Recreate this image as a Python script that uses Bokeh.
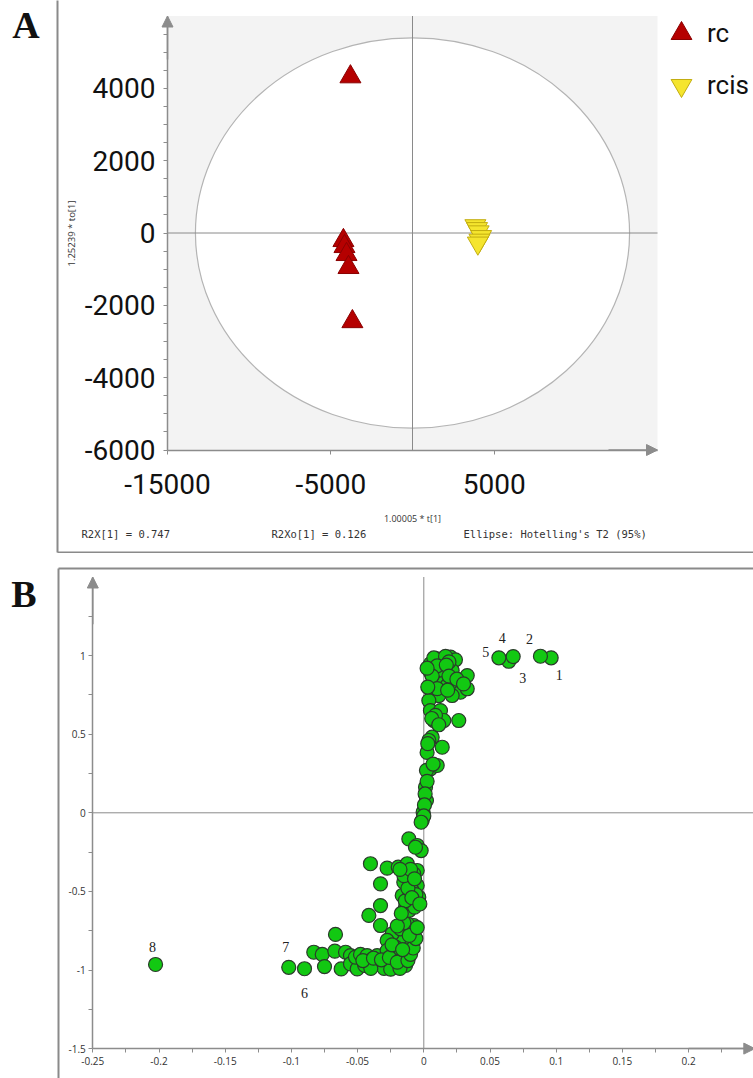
from bokeh.plotting import figure
from bokeh.layouts import column
from bokeh.models import (Range1d, LinearAxis, FixedTicker, Arrow, NormalHead,
                          Legend, Label, ColumnDataSource)
from bokeh.embed import file_html
from bokeh.resources import INLINE
from bokeh.core.properties import value

# ---------------- DATA ----------------
# Panel A: OPLS-DA score plot
rc_t = [-3800, -4230, -4165, -4040, -3920, -3680]
rc_to = [4320, -207, -373, -594, -953, -2450]
rcis_t = [3850, 3950, 4050, 4200, 4100, 4000]
rcis_to = [200, 120, 30, -100, -200, -280]
groups = ["rc", "rcis"]
a_x_ticks = [-15000, -5000, 5000]
a_x_tick_labels = ["-15000", "-5000", "5000"]
a_y_ticks = [-6000, -4000, -2000, 0, 2000, 4000]
a_y_tick_labels = ["-6000", "-4000", "-2000", "0", "2000", "4000"]
a_y_minor = [-5500, -5000, -4500, -3500, -3000, -2500, -1500, -1000, -500,
             500, 1000, 1500, 2500, 3000, 3500, 4500, 5000, 5500]
a_x_range = [-15000, 15000]
a_y_range = [-6000, 6000]
ellipse_semi_axes = [13290, 5400]
a_x_title = "1.00005 * t[1]"
a_y_title = "1.25239 * to[1]"
a_notes = ["R2X[1] = 0.747", "R2Xo[1] = 0.126", "Ellipse: Hotelling's T2 (95%)"]

# Panel B: S-plot (loadings)
marked_ids = ["1", "2", "3", "4", "5", "6", "7", "8"]
marked_p = [0.0962, 0.0881, 0.0642, 0.0675, 0.0567, -0.0901, -0.102, -0.2026]
marked_pcorr = [0.986, 0.996, 0.964, 0.994, 0.986, -0.992, -0.983, -0.965]

upper_p = [0.0050, 0.0101, 0.0139, 0.0202, 0.0239, 0.0050, 0.0126, 0.0214, 0.0328,
           0.0088, 0.0139, 0.0177, 0.0227, 0.0277, 0.0328, 0.0214, 0.0113, 0.0038,
           0.0050, 0.0126, 0.0076, 0.0151, 0.0264, 0.0063, 0.0038, 0.0139, 0.0025,
           0.0050, 0.0101, 0.0013, 0.0020, -0.0005, -0.0012,
           0.0076, 0.0164, 0.0190, 0.0101, 0.0170, 0.0063, 0.0190, 0.0250, 0.0300,
           0.0101, 0.0180, 0.0025, 0.0030, 0.0088, 0.0060, 0.0113, 0.0030, 0.0020,
           0.0070, 0.0025, 0.0010, 0.0005, 0.0000, -0.0020]
upper_pcorr = [0.948, 0.980, 0.958, 0.990, 0.973, 0.894, 0.905, 0.905, 0.873,
               0.831, 0.821, 0.810, 0.831, 0.767, 0.789, 0.746, 0.746, 0.714,
               0.650, 0.650, 0.587, 0.587, 0.587, 0.481, 0.460, 0.417, 0.384,
               0.280, 0.301, 0.163, 0.078, 0.004, -0.049,
               0.985, 0.995, 0.960, 0.935, 0.940, 0.870, 0.870, 0.850, 0.820,
               0.790, 0.780, 0.920, 0.800, 0.620, 0.600, 0.560, 0.440, 0.270,
               0.310, 0.200, 0.120, 0.050, -0.020, -0.060]

lower_p = [-0.0831, -0.0767, -0.0750, -0.0667, -0.0672, -0.0624, -0.0591, -0.0554,
           -0.0554, -0.0503, -0.0516, -0.0478, -0.0446, -0.0428, -0.0403, -0.0352,
           -0.0352, -0.0289, -0.0277, -0.0239, -0.0201, -0.0227, -0.0138, -0.0138,
           -0.0151, -0.0100, -0.0176, -0.0239, -0.0176, -0.0088, -0.0076, -0.0125,
           -0.0277, -0.0214, -0.0327, -0.0415, -0.0327, -0.0327, -0.0403, -0.0277,
           -0.0193, -0.0125, -0.0050, -0.0076, -0.0151, -0.0050, -0.0163, -0.0138,
           -0.0038, -0.0063, -0.0088, -0.0113, -0.0050, -0.0020, -0.0063, -0.0277,
           -0.0189, -0.0163,
           -0.0300, -0.0250, -0.0180, -0.0400, -0.0460, -0.0380, -0.0320, -0.0260,
           -0.0200, -0.0120, -0.0100, -0.0080, -0.0060, -0.0110, -0.0150, -0.0200,
           -0.0240, -0.0160, -0.0050, -0.0110, -0.0070, -0.0140, -0.0060, -0.0120,
           -0.0150, -0.0100, -0.0070, -0.0180, -0.0090, -0.0170, -0.0030]
lower_pcorr = [-0.887, -0.901, -0.978, -0.774, -0.880, -0.993, -0.887, -0.908,
               -0.961, -0.993, -0.918, -0.901, -0.971, -0.908, -0.940, -0.961,
               -0.908, -0.940, -0.982, -0.971, -0.971, -0.887, -0.971, -0.887,
               -0.833, -0.833, -0.791, -0.770, -0.738, -0.749, -0.717, -0.706,
               -0.812, -0.855, -0.717, -0.653, -0.590, -0.452, -0.324, -0.352,
               -0.346, -0.324, -0.367, -0.388, -0.441, -0.462, -0.526, -0.600,
               -0.537, -0.569, -0.494, -0.166, -0.208, -0.240, -0.219, -0.876,
               -0.908, -0.929,
               -0.990, -0.995, -0.990, -0.990, -0.940, -0.925, -0.935, -0.920,
               -0.950, -0.940, -0.900, -0.860, -0.800, -0.780, -0.700, -0.720,
               -0.840, -0.870, -0.730, -0.620, -0.600, -0.560, -0.520, -0.480,
               -0.400, -0.360, -0.420, -0.360, -0.540, -0.640, -0.580]

b_x_ticks = [-0.25, -0.2, -0.15, -0.1, -0.05, 0.0, 0.05, 0.1, 0.15, 0.2]
b_x_tick_labels = ["-0.25", "-0.2", "-0.15", "-0.1", "-0.05", "0", "0.05", "0.1", "0.15", "0.2"]
b_x_minor = [-0.225, -0.175, -0.125, -0.075, -0.025, 0.025, 0.075, 0.125, 0.175, 0.225]
b_y_ticks = [-1.5, -1.0, -0.5, 0.0, 0.5, 1.0]
b_y_tick_labels = ["-1.5", "-1", "-0.5", "0", "0.5", "1"]
b_y_minor = [-1.25, -0.75, -0.25, 0.25, 0.75, 1.25]
b_x_range = [-0.25, 0.25]
b_y_range = [-1.5, 1.5]

# ---------------- LAYOUT / STYLE ----------------
W = 753
HA = 553
HB = 525
AXIS_GRAY = "#8c8c8c"
FRAME_GRAY = "#8a8a8a"
BIG = "Roboto"

# label offsets (px) for the numbered points
marked_dx = [8, -11, 14, -11, -13, 0, -3, -3]
marked_dy = [17, -17, 17, -19, -6, 24, -20, -17]


def lin(p0, p1, v0, v1, p):
    return v0 + (p - p0) * (v1 - v0) / (p1 - p0)


# pixel positions (page) of the plotting extents
A_PX = (167, 657)      # x: -15000 .. 15000
A_PY = (449.5, 15.5)   # y: -6000 .. 6000
A_TOP = 0

B_PX = (92.3, 754.3)
B_PY = (1048.1, 576.5)
B_TOP = HA


def xa(px):
    return lin(A_PX[0], A_PX[1], a_x_range[0], a_x_range[1], px)


def ya(py):
    return lin(A_PY[0], A_PY[1], a_y_range[0], a_y_range[1], py)


def xb(px):
    return lin(B_PX[0], B_PX[1], b_x_range[0], b_x_range[1], px)


def yb(py):
    return lin(B_PY[0], B_PY[1], b_y_range[0], b_y_range[1], py)


# ================= PANEL A =================
pa = figure(width=W, height=HA, output_backend="svg", toolbar_location=None,
            x_range=Range1d(xa(0), xa(W)), y_range=Range1d(ya(A_TOP + HA), ya(A_TOP)),
            x_axis_type=None, y_axis_type=None, min_border=0, outline_line_color=None)
pa.background_fill_color = "white"
pa.border_fill_color = "white"

# panel frame
pa.segment(x0=[xa(57), xa(57)], y0=[ya(-20), ya(552)], x1=[xa(57), xa(800)], y1=[ya(552), ya(552)],
           line_color=FRAME_GRAY, line_width=2)

# grey plotting area and white Hotelling ellipse
pa.quad(left=[a_x_range[0]], right=[a_x_range[1]], bottom=[a_y_range[0]], top=[a_y_range[1]],
        fill_color="#f3f3f3", line_color=None)
pa.ellipse(x=[0], y=[0], width=[2 * ellipse_semi_axes[0]], height=[2 * ellipse_semi_axes[1]],
           fill_color="white", line_color="#b4b4b4", line_width=1.2)
pa.segment(x0=[a_x_range[0], 0], y0=[0, a_y_range[0]], x1=[a_x_range[1], 0], y1=[0, a_y_range[1]],
           line_color="#8a8a8a", line_width=1)

r_rc = pa.scatter(rc_t, rc_to, marker="triangle", size=21, fill_color="#b50000",
                  line_color="#8a0000", line_width=1)
r_rcis = pa.scatter(rcis_t, rcis_to, marker="inverted_triangle", size=21, fill_color="#f5e52e",
                    line_color="#c2ad10", line_width=1)

ay = LinearAxis(fixed_location=a_x_range[0], bounds=tuple(a_y_range),
                ticker=FixedTicker(ticks=a_y_ticks, minor_ticks=a_y_minor),
                major_label_overrides=dict(zip(a_y_ticks, a_y_tick_labels)),
                axis_label=a_y_title)
ax = LinearAxis(fixed_location=a_y_range[0], bounds=tuple(a_x_range),
                ticker=FixedTicker(ticks=a_x_ticks, minor_ticks=[]),
                major_label_overrides=dict(zip(a_x_ticks, a_x_tick_labels)),
                axis_label=a_x_title)
for axis in (ay, ax):
    axis.axis_line_color = AXIS_GRAY
    axis.axis_line_width = 1.5
    axis.major_tick_line_color = AXIS_GRAY
    axis.minor_tick_line_color = AXIS_GRAY
    axis.major_tick_in = 0
    axis.major_tick_out = 4
    axis.minor_tick_in = 0
    axis.minor_tick_out = 4
    axis.major_label_text_font = BIG
    axis.major_label_text_font_size = "28px"
    axis.major_label_text_color = "#111111"
    axis.axis_label_text_font_style = "normal"
    axis.axis_label_text_color = "#333333"
    axis.axis_label_text_font = "Open Sans"
ay.major_label_standoff = 8
ay.axis_label_standoff = 4
ay.axis_label_text_font_size = "9.5px"
ax.major_label_standoff = 20
ax.axis_label_standoff = 14
ax.axis_label_text_font_size = "9px"
pa.add_layout(ay, "left")
pa.add_layout(ax, "below")

pa.add_layout(Arrow(end=NormalHead(size=11, fill_color=AXIS_GRAY, line_color=AXIS_GRAY),
                    x_start=a_x_range[0], y_start=a_y_range[1] * 0.8,
                    x_end=a_x_range[0], y_end=a_y_range[1], line_color=AXIS_GRAY, line_width=1.5))
pa.add_layout(Arrow(end=NormalHead(size=11, fill_color=AXIS_GRAY, line_color=AXIS_GRAY),
                    x_start=a_x_range[1] * 0.8, y_start=a_y_range[0],
                    x_end=a_x_range[1], y_end=a_y_range[0], line_color=AXIS_GRAY, line_width=1.5))

legend = Legend(items=[(groups[0], [r_rc]), (groups[1], [r_rcis])],
                location=(655, HA - 111), glyph_width=52, glyph_height=52, spacing=0,
                padding=0, margin=0, border_line_alpha=0, background_fill_alpha=0,
                label_standoff=0, label_text_font=BIG, label_text_font_size="26px",
                label_text_color="#111111")
pa.add_layout(legend)

note_px = [81, 271, 463]
for txt, px in zip(a_notes, note_px):
    pa.add_layout(Label(x=xa(px), y=ya(533), text=txt, text_font="DejaVu Sans Mono",
                        text_font_size="10.5px", text_color="#333333",
                        text_align="left", text_baseline="middle"))

pa.add_layout(Label(x=xa(25.5), y=ya(24), text="A", text_font="Liberation Serif",
                    text_font_style="bold", text_font_size="38px", text_color="#111111",
                    text_align="center", text_baseline="middle"))

# ================= PANEL B =================
pb = figure(width=W, height=HB, output_backend="svg", toolbar_location=None,
            x_range=Range1d(xb(0), xb(W)), y_range=Range1d(yb(B_TOP + HB), yb(B_TOP)),
            x_axis_type=None, y_axis_type=None, min_border=0, outline_line_color=None)
pb.background_fill_color = "white"
pb.border_fill_color = "white"

pb.segment(x0=[xb(58), xb(58)], y0=[yb(568), yb(568)], x1=[xb(58), xb(800)], y1=[yb(1100), yb(568)],
           line_color=FRAME_GRAY, line_width=2)

pb.segment(x0=[b_x_range[0], 0], y0=[0, b_y_range[0]], x1=[b_x_range[1], 0], y1=[0, b_y_range[1]],
           line_color="#8a8a8a", line_width=1)

all_p = upper_p + lower_p + marked_p
all_pcorr = upper_pcorr + lower_pcorr + marked_pcorr
pb.scatter(all_p, all_pcorr, marker="circle", size=14, fill_color="#12c812",
           line_color="#2b3a2b", line_width=1.2)

lab_src = ColumnDataSource(dict(x=marked_p, y=marked_pcorr, t=marked_ids,
                                dx=marked_dx, dy=marked_dy))
pb.text(x="x", y="y", text="t", x_offset="dx", y_offset="dy", source=lab_src,
        text_font=value("Liberation Serif"), text_font_size="14px", text_color="#222222",
        text_align="center", text_baseline="middle")

by = LinearAxis(fixed_location=b_x_range[0], bounds=tuple(b_y_range),
                ticker=FixedTicker(ticks=b_y_ticks, minor_ticks=b_y_minor),
                major_label_overrides=dict(zip(b_y_ticks, b_y_tick_labels)))
bx = LinearAxis(fixed_location=b_y_range[0], bounds=tuple(b_x_range),
                ticker=FixedTicker(ticks=b_x_ticks, minor_ticks=b_x_minor),
                major_label_overrides=dict(zip(b_x_ticks, b_x_tick_labels)))
for axis in (by, bx):
    axis.axis_line_color = AXIS_GRAY
    axis.axis_line_width = 1.5
    axis.major_tick_line_color = AXIS_GRAY
    axis.minor_tick_line_color = AXIS_GRAY
    axis.major_tick_in = 0
    axis.major_tick_out = 4
    axis.minor_tick_in = 0
    axis.minor_tick_out = 4
    axis.major_label_text_font = "Open Sans"
    axis.major_label_text_font_size = "10px"
    axis.major_label_text_color = "#333333"
by.major_label_standoff = 3
bx.major_label_standoff = 4
pb.add_layout(by, "left")
pb.add_layout(bx, "below")

pb.add_layout(Arrow(end=NormalHead(size=11, fill_color=AXIS_GRAY, line_color=AXIS_GRAY),
                    x_start=b_x_range[0], y_start=b_y_range[1] * 0.8,
                    x_end=b_x_range[0], y_end=b_y_range[1], line_color=AXIS_GRAY, line_width=1.5))
pb.add_layout(Arrow(end=NormalHead(size=11, fill_color=AXIS_GRAY, line_color=AXIS_GRAY),
                    x_start=b_x_range[1] * 0.8, y_start=b_y_range[0],
                    x_end=b_x_range[1], y_end=b_y_range[0], line_color=AXIS_GRAY, line_width=1.5))

pb.add_layout(Label(x=xb(23.5), y=yb(593), text="B", text_font="Liberation Serif",
                    text_font_style="bold", text_font_size="38px", text_color="#111111",
                    text_align="center", text_baseline="middle"))

layout = column(pa, pb, spacing=0)
open("out.html", "w").write(file_html(layout, INLINE))
